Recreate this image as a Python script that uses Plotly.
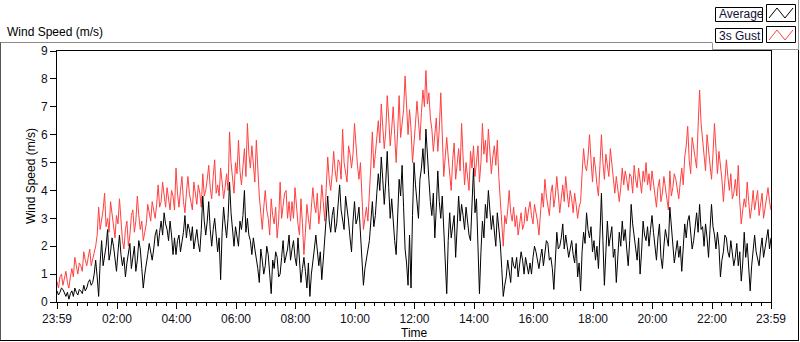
import plotly.graph_objects as go

# ---- data, one value every 3 minutes, 23:59 -> 23:59 next day ----
gust_3s = [
    # 23:59 - 03:55
    0.74, 0.5, 0.9, 1.0, 0.6, 0.8, 1.1, 0.7, 0.5, 0.9, 1.2, 0.9, 1.6, 1.3, 1.0, 1.4, 1.3, 1.1, 1.8, 1.5,
    1.3, 1.6, 1.9, 1.3, 1.5, 1.8, 2.0, 2.4, 3.4, 2.6, 2.9, 3.3, 3.9, 2.7, 3.0, 2.5, 3.6, 3.2, 2.6, 2.3,
    3.1, 2.8, 3.7, 3.0, 2.2, 1.9, 2.6, 2.9, 2.0, 2.4, 3.1, 3.3, 2.5, 2.9, 3.8, 3.1, 2.6, 2.9, 2.2, 2.5,
    2.8, 3.5, 3.2, 2.9, 3.6, 3.3, 3.0, 3.5, 4.2, 3.4, 3.6, 4.3, 3.9, 3.4, 4.1, 3.7, 3.3, 4.0, 3.8,
    # 04:00 - 07:50
    3.3, 4.8, 3.9, 3.4, 4.0, 4.5, 3.6, 3.2, 3.9, 4.5, 3.9, 3.6, 3.3, 4.3, 3.8, 3.5, 4.2, 3.9, 3.4, 4.6,
    3.8, 4.0, 4.4, 4.9, 4.1, 3.7, 4.5, 5.1, 3.9, 4.2, 3.8, 4.8, 4.3, 3.7, 4.1, 4.6, 4.0, 6.1, 5.0, 4.4,
    3.9, 5.0, 4.6, 5.8, 4.7, 4.2, 4.9, 5.5, 4.5, 6.4, 5.3, 4.8, 5.6, 4.9, 4.3, 5.8, 4.6, 3.8, 3.2, 2.6,
    3.4, 4.0, 3.3, 3.0, 2.4, 3.7, 3.1, 2.8, 3.4, 2.3, 2.9, 4.3, 3.0, 3.4, 3.9, 4.0, 3.0, 3.6,
    # 07:50 - 11:50
    2.9, 3.6, 3.0, 4.1, 3.3, 2.8, 2.4, 3.7, 2.8, 1.7, 2.5, 3.5, 3.0, 2.6, 3.4, 4.1, 3.5, 3.2, 3.9, 2.8,
    3.3, 4.2, 3.6, 2.9, 4.1, 5.2, 4.4, 4.0, 4.6, 5.4, 4.7, 4.3, 5.1, 5.0, 4.4, 6.2, 5.0, 4.6, 4.3, 5.6,
    5.3, 4.8, 5.3, 6.4, 5.5, 4.9, 4.4, 5.0, 3.8, 2.6, 3.0, 3.4, 2.9, 4.2, 4.9, 6.1, 4.8, 5.3, 5.9, 6.5,
    5.7, 7.1, 6.3, 5.5, 6.1, 7.4, 6.6, 5.6, 6.2, 7.0, 6.0, 5.0, 6.1, 7.4, 5.9, 6.4, 6.9, 8.1, 6.8, 6.0,
    # 11:50 - 16:00
    6.9, 6.2, 5.0, 5.6, 6.4, 7.2, 6.6, 5.8, 6.8, 7.6, 7.0, 8.3, 7.1, 7.5, 6.6, 6.2, 5.4, 6.0, 6.6, 5.4,
    6.2, 7.5, 5.6, 4.5, 5.2, 5.9, 5.2, 4.6, 4.0, 5.1, 5.7, 4.4, 4.9, 5.5, 4.7, 6.4, 5.2, 4.2, 5.0, 4.6,
    4.0, 5.4, 4.8, 5.6, 4.5, 5.0, 5.6, 4.3, 5.0, 6.4, 5.3, 5.8, 5.0, 6.2, 5.4, 4.6, 5.2, 5.6, 4.9, 5.8,
    4.5, 3.6, 2.8, 2.0, 3.1, 2.8, 3.3, 4.0, 3.2, 2.9, 3.4, 2.7, 3.1, 2.4, 2.8, 3.2, 2.6, 2.8, 3.4, 2.9,
    3.3, 3.6,
    # 16:00 - 20:00
    3.1, 2.8, 3.5, 3.2, 2.9, 2.4, 3.2, 3.9, 3.4, 4.4, 3.8, 3.5, 3.1, 3.9, 4.2, 3.4, 3.8, 4.5, 3.9, 3.2,
    3.7, 4.2, 3.6, 4.5, 3.9, 3.4, 4.0, 3.7, 3.2, 3.9, 3.5, 3.0, 3.4, 3.6, 4.6, 5.5, 4.9, 4.7, 5.2, 6.0,
    5.1, 4.3, 5.2, 4.8, 4.2, 3.8, 4.9, 6.0, 5.0, 4.4, 5.3, 4.9, 4.5, 5.5, 4.9, 4.3, 3.9, 4.5, 4.0, 3.6,
    4.1, 4.8, 4.2, 4.7, 4.4, 4.0, 4.6, 4.5, 3.9, 4.9, 4.4, 4.1, 4.8, 4.4, 3.9, 4.7, 4.3, 5.0, 4.2, 4.6,
    # 20:00 - 23:59
    4.0, 4.7, 4.3, 3.9, 3.4, 4.1, 4.4, 3.6, 3.9, 4.5, 4.1, 3.7, 3.3, 4.7, 3.8, 4.1, 4.6, 4.4, 4.0, 3.7,
    4.3, 4.8, 4.2, 5.2, 5.6, 6.3, 5.1, 4.6, 5.9, 5.5, 5.0, 4.8, 6.3, 7.6, 6.4, 5.8, 5.2, 4.7, 6.0, 5.5,
    5.0, 4.4, 5.3, 6.4, 5.5, 4.6, 5.4, 5.0, 4.4, 3.6, 4.6, 5.1, 4.5, 4.0, 4.6, 3.7, 3.9, 4.4, 3.8, 4.9,
    3.6, 2.8, 3.3, 3.7, 3.4, 4.3, 3.6, 3.0, 3.4, 4.0, 3.3, 3.6, 4.0, 3.1, 3.5, 3.9, 3.0, 3.4, 3.7, 4.1,
    3.6, 3.3,
]
average = [
    # 23:59 - 03:55
    0.4, 0.25, 0.35, 0.5, 0.45, 0.3, 0.2, 0.35, 0.1, 0.3, 0.4, 0.2, 0.5, 0.35, 0.25, 0.45, 0.4, 0.3, 0.6, 0.4,
    0.5, 0.7, 0.8, 0.6, 0.7, 1.0, 1.5, 0.9, 0.2, 1.4, 2.2, 1.3, 1.6, 2.0, 2.6, 1.5, 1.8, 2.3, 2.0, 1.4,
    1.1, 1.8, 2.4, 1.7, 1.3, 1.6, 0.9, 1.4, 1.7, 2.1, 1.2, 1.6, 2.0, 1.1, 1.5, 2.2, 1.9, 1.2, 0.5, 1.0,
    1.3, 1.7, 2.1, 1.8, 1.5, 1.9, 2.4, 2.6, 2.0, 2.5, 2.9, 2.4, 3.2, 2.8, 2.6, 2.2, 2.9, 2.4, 1.7,
    # 04:00 - 07:50
    2.3, 1.7, 2.2, 2.4, 1.8, 2.1, 2.5, 3.1, 2.3, 2.8, 2.6, 2.2, 2.7, 1.9, 2.2, 2.6, 2.1, 1.8, 2.6, 3.8,
    2.9, 2.4, 2.9, 3.6, 2.6, 2.0, 2.6, 3.0, 2.4, 1.8, 2.3, 0.8, 2.5, 3.4, 2.8, 2.3, 3.0, 4.3, 3.2, 2.4,
    2.0, 2.7, 2.3, 2.0, 2.9, 2.6, 3.1, 4.0, 2.5, 3.0, 2.4, 2.2, 1.7, 2.3, 1.9, 1.6, 1.2, 0.7, 1.9, 1.5,
    1.0, 1.3, 2.0, 1.7, 1.1, 0.3, 1.5, 1.2, 1.8, 1.6, 0.9, 1.0, 1.6, 2.2, 1.4, 1.7, 1.9, 2.4,
    # 07:50 - 11:50
    1.5, 1.9, 2.2, 1.6, 1.3, 2.3, 1.5, 0.7, 1.2, 1.6, 1.1, 0.5, 1.4, 0.2, 1.0, 1.6, 1.9, 2.4, 1.7, 1.3,
    1.8, 0.8, 1.5, 2.2, 3.0, 3.8, 2.9, 2.5, 3.1, 3.4, 2.5, 2.8, 3.5, 4.2, 3.3, 3.0, 2.6, 3.8, 3.2, 2.9,
    2.3, 1.8, 2.9, 3.6, 2.8, 3.0, 3.4, 2.4, 1.5, 0.6, 1.2, 1.6, 1.9, 2.2, 2.9, 3.6, 2.7, 3.1, 3.9, 4.6,
    4.0, 5.2, 4.4, 3.5, 4.3, 5.4, 4.1, 3.0, 3.7, 2.7, 2.2, 1.7, 3.2, 4.4, 3.8, 4.9, 3.4, 1.9, 1.4, 0.6,
    # 11:50 - 16:00
    2.4, 0.5, 3.1, 5.0, 4.2, 3.6, 3.0, 4.4, 4.8, 5.5, 4.6, 6.2, 5.0, 4.4, 3.6, 3.1, 3.9, 2.3, 3.4, 4.7,
    3.6, 3.0, 3.8, 2.6, 1.5, 0.3, 2.2, 3.2, 2.3, 2.8, 3.1, 1.6, 2.5, 3.8, 2.9, 3.5, 3.1, 2.6, 3.4, 2.9,
    2.4, 2.2, 3.3, 4.8, 3.2, 3.7, 2.0, 0.3, 1.8, 2.9, 2.3, 3.5, 3.0, 4.0, 3.3, 2.6, 3.1, 2.4, 2.0, 3.2,
    2.7, 2.1, 1.2, 0.2, 0.6, 0.9, 1.5, 1.1, 0.7, 1.6, 1.3, 1.2, 1.6, 0.9, 1.4, 1.8, 1.5, 1.0, 1.6, 1.3,
    1.0, 1.4,
    # 16:00 - 20:00
    1.0, 1.6, 2.0, 1.8, 1.4, 1.2, 1.6, 1.9, 1.3, 1.7, 2.2, 2.1, 1.5, 1.6, 1.2, 0.45, 1.7, 2.5, 1.9, 2.0,
    2.3, 2.8, 1.9, 2.4, 2.0, 1.6, 1.9, 2.2, 1.7, 1.4, 2.1, 0.9, 1.4, 0.4, 1.8, 2.5, 2.1, 3.2, 2.6, 2.3,
    2.7, 1.8, 2.2, 1.5, 2.0, 1.2, 2.4, 3.9, 2.2, 0.6, 1.8, 2.9, 2.0, 2.3, 2.7, 1.6, 1.9, 0.7, 1.6, 2.5,
    2.0, 2.9, 2.2, 2.6, 1.9, 1.3, 2.2, 3.5, 2.8, 2.4, 2.0, 1.5, 2.3, 1.0, 1.8, 2.9, 2.4, 2.2, 2.7, 2.0,
    # 20:00 - 23:59
    2.6, 3.1, 2.5, 2.0, 1.5, 2.3, 2.8, 1.6, 1.2, 2.0, 2.6, 2.3, 2.0, 3.4, 2.7, 2.3, 1.4, 1.8, 2.2, 1.6,
    2.0, 1.1, 1.9, 2.8, 2.3, 2.9, 3.1, 2.5, 1.9, 2.2, 2.6, 3.2, 2.5, 3.5, 2.6, 2.7, 2.0, 2.8, 2.3, 1.6,
    2.6, 3.5, 2.7, 2.4, 1.9, 2.5, 2.0, 0.9, 1.5, 1.8, 2.4, 2.3, 1.8, 1.6, 2.2, 1.8, 1.3, 1.6, 2.1, 1.3,
    1.8, 0.75, 1.4, 2.5, 1.6, 2.1, 1.2, 0.4, 1.3, 2.0, 2.4, 1.8, 1.6, 1.3, 1.9, 2.3, 1.6, 2.0, 2.3, 2.6,
    1.9, 2.3,
]
DAY_MIN = 1440
gust_t = [i * DAY_MIN / (len(gust_3s) - 1) for i in range(len(gust_3s))]
avg_t = [i * DAY_MIN / (len(average) - 1) for i in range(len(average))]

tick_minutes = [0, 121, 241, 361, 481, 601, 721, 841, 961, 1081, 1201, 1321, 1440]
tick_labels = ["23:59", "02:00", "04:00", "06:00", "08:00", "10:00", "12:00",
               "14:00", "16:00", "18:00", "20:00", "22:00", "23:59"]
y_ticks = [0, 1, 2, 3, 4, 5, 6, 7, 8, 9]

# ---- geometry helpers (pixel -> paper) ----
L, R, T, B = 57, 771, 51, 302
def px(x):
    return (x - L) / (R - L)
def py(y):
    return (B - y) / (B - T)

FONT = "Liberation Sans"
RED = "#FF4040"

fig = go.Figure()
fig.add_trace(go.Scatter(x=gust_t, y=gust_3s, mode="lines", name="3s Gust",
                         line=dict(color=RED, width=1)))
fig.add_trace(go.Scatter(x=avg_t, y=average, mode="lines", name="Average",
                         line=dict(color="black", width=1)))

fig.update_layout(
    width=800, height=342, autosize=False,
    margin=dict(l=L, r=800 - R, t=T, b=342 - B, pad=0),
    paper_bgcolor="white", plot_bgcolor="white",
    showlegend=False,
    font=dict(family=FONT, size=12, color="black"),
)
fig.update_xaxes(
    range=[0, 1440], tickmode="array", tickvals=tick_minutes, ticktext=tick_labels,
    ticks="outside", ticklen=6, tickwidth=1, tickcolor="black",
    showgrid=False, zeroline=False, showline=True, linecolor="black", linewidth=1, mirror=True,
    tickfont=dict(family=FONT, size=12, color="#111122"),
    minor=dict(tickmode="linear", tick0=1, dtick=20, ticks="outside", ticklen=3,
               tickcolor="black", tickwidth=1, showgrid=False),
)
fig.update_yaxes(
    range=[0, 9], tickmode="array", tickvals=y_ticks,
    ticks="outside", ticklen=6, tickwidth=1, tickcolor="black",
    showgrid=False, zeroline=False, showline=True, linecolor="black", linewidth=1, mirror=True,
    tickfont=dict(family=FONT, size=12, color="#111122"),
)

shapes = []
# outer panel border
shapes.append(dict(type="line", xref="paper", yref="paper", x0=px(0), x1=px(712), y0=py(42.5), y1=py(42.5),
                   line=dict(color="#8a8a8a", width=1)))
shapes.append(dict(type="line", xref="paper", yref="paper", x0=px(0.5), x1=px(0.5), y0=py(42.5), y1=py(340.5),
                   line=dict(color="#555555", width=1)))
shapes.append(dict(type="line", xref="paper", yref="paper", x0=px(0), x1=px(799), y0=py(340.5), y1=py(340.5),
                   line=dict(color="black", width=1)))
shapes.append(dict(type="line", xref="paper", yref="paper", x0=px(798.5), x1=px(798.5), y0=py(50), y1=py(341),
                   line=dict(color="black", width=1)))
# legend panel frame
shapes.append(dict(type="line", xref="paper", yref="paper", x0=px(712), x1=px(799), y0=py(49.5), y1=py(49.5),
                   line=dict(color="#9a9a9a", width=1)))
shapes.append(dict(type="line", xref="paper", yref="paper", x0=px(798.5), x1=px(798.5), y0=py(0), y1=py(50),
                   line=dict(color="#9a9a9a", width=1)))
shapes.append(dict(type="line", xref="paper", yref="paper", x0=px(712.5), x1=px(712.5), y0=py(42.5), y1=py(49.5),
                   line=dict(color="#9a9a9a", width=1)))
# legend boxes
for (y0, y1) in [(7.5, 21.5), (28.5, 42.5)]:
    shapes.append(dict(type="rect", xref="paper", yref="paper", x0=px(715.5), x1=px(762.5), y0=py(y1), y1=py(y0),
                       line=dict(color="black", width=1), fillcolor="white"))
for (y0, y1) in [(4.5, 21.5), (26.5, 42.5)]:
    shapes.append(dict(type="rect", xref="paper", yref="paper", x0=px(766.5), x1=px(795.5), y0=py(y1), y1=py(y0),
                       line=dict(color="black", width=1), fillcolor="white"))
def zig(ytop, ybot, color):
    pts = [(769, ybot), (777, ytop), (785, ybot), (793, ytop)]
    path = "M " + " L ".join(f"{px(x):.5f},{py(y):.5f}" for x, y in pts)
    return dict(type="path", xref="paper", yref="paper", path=path, line=dict(color=color, width=1))
shapes.append(zig(8, 18, "black"))
shapes.append(zig(30, 40, RED))
fig.update_layout(shapes=shapes)

annotations = [
    dict(text="Wind Speed (m/s)", x=px(5), y=py(32), xref="paper", yref="paper",
         xanchor="left", yanchor="middle", showarrow=False, font=dict(family=FONT, size=12, color="black")),
    dict(text="Wind Speed (m/s)", x=px(31), y=py(176), xref="paper", yref="paper", textangle=-90,
         xanchor="center", yanchor="middle", showarrow=False, font=dict(family=FONT, size=12, color="black")),
    dict(text="Time", x=px(414), y=py(333), xref="paper", yref="paper",
         xanchor="center", yanchor="middle", showarrow=False, font=dict(family=FONT, size=12, color="black")),
    dict(text="Average", x=px(717), y=py(14.5), xref="paper", yref="paper",
         xanchor="left", yanchor="middle", showarrow=False, font=dict(family=FONT, size=12, color="#111133")),
    dict(text="3s Gust", x=px(717), y=py(35.5), xref="paper", yref="paper",
         xanchor="left", yanchor="middle", showarrow=False, font=dict(family=FONT, size=12, color="#111133")),
]
fig.update_layout(annotations=annotations)

fig.write_html("out.html", config={"displayModeBar": False},
               post_script="document.body.style.margin='0';document.body.style.padding='0';")
